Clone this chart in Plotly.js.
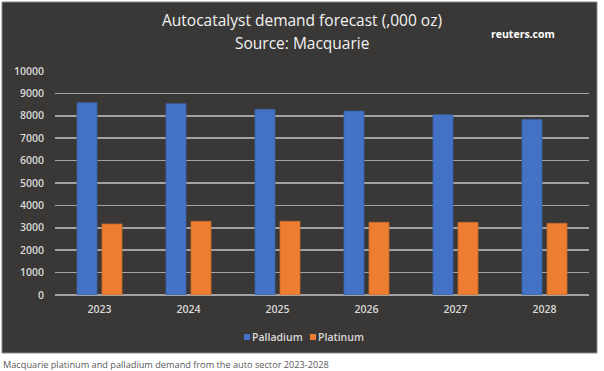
<!DOCTYPE html>
<html>
<head>
<meta charset="utf-8">
<script src="https://cdn.plot.ly/plotly-3.0.1.min.js"></script>
<style>
  html, body { margin: 0; padding: 0; background: #ffffff; }
  #chart { width: 604px; height: 371px; }
</style>
</head>
<body>
<div id="chart"></div>
<script>
const years = ["2023", "2024", "2025", "2026", "2027", "2028"];
const palladium = [8585, 8540, 8290, 8210, 8050, 7840];
const platinum = [3170, 3290, 3290, 3245, 3245, 3200];
const seriesNames = ["Palladium", "Platinum"];
const yTicks = [0, 1000, 2000, 3000, 4000, 5000, 6000, 7000, 8000, 9000, 10000];

const titleLine1 = "Autocatalyst demand forecast (,000 oz)";
const titleLine2 = "Source: Macquarie";
const watermark = "reuters.com";
const caption = "Macquarie platinum and palladium demand from the auto sector 2023-2028";

const BLUE = "#4472c4", ORANGE = "#ed7d31", DARK = "#3a3836";
const tickFont = { family: "Open Sans, sans-serif", size: 10.5, color: "#d9d9d9", weight: 600 };

// plot area: x 55..589, y 71..295 (pixels)
const L = 55, R = 589, T = 71, B = 295, W = 604, H = 371;
const px = x => (x - L) / (R - L);
const py = y => (B - y) / (B - T);

const traces = [
  { type: "bar", name: seriesNames[0], x: years, y: palladium,
    marker: { color: BLUE, line: { color: "#3a62a8", width: 0.8 } }, hoverinfo: "x+y" },
  { type: "bar", name: seriesNames[1], x: years, y: platinum,
    marker: { color: ORANGE, line: { color: "#c8692a", width: 0.8 } }, hoverinfo: "x+y" }
];

const layout = {
  width: W, height: H,
  margin: { l: L, r: W - R, t: T, b: H - B, pad: 0 },
  paper_bgcolor: "#ffffff",
  plot_bgcolor: DARK,
  showlegend: false,
  barmode: "group",
  bargap: 0.438,
  bargroupgap: 0.2,
  xaxis: {
    type: "category",
    tickfont: tickFont,
    showgrid: false, showline: false, zeroline: false,
    ticks: "", ticklen: 0, ticklabelstandoff: 6
  },
  yaxis: {
    range: [0, 10000],
    tickvals: yTicks,
    ticktext: yTicks.map(String),
    tickfont: tickFont,
    showgrid: true, gridcolor: "#a3a3a3", gridwidth: 1.5,
    zeroline: true, zerolinecolor: "#a3a3a3", zerolinewidth: 1.5,
    showline: false, ticks: "", ticklabelstandoff: 10
  },
  shapes: [
    { type: "rect", xref: "paper", yref: "paper", layer: "below",
      x0: px(2), x1: px(597), y0: py(353), y1: py(2),
      fillcolor: DARK, line: { color: "#8a8a8a", width: 1 } },
    { type: "rect", xref: "paper", yref: "paper",
      x0: px(244), x1: px(250), y0: py(340), y1: py(334),
      fillcolor: BLUE, line: { width: 0 } },
    { type: "rect", xref: "paper", yref: "paper",
      x0: px(310), x1: px(316), y0: py(340), y1: py(334),
      fillcolor: ORANGE, line: { width: 0 } }
  ],
  annotations: [
    { text: titleLine1, xref: "paper", yref: "paper", x: px(302), y: py(20),
      showarrow: false, xanchor: "center", yanchor: "middle",
      font: { family: "Open Sans, sans-serif", size: 15.5, color: "#f2f2f2" } },
    { text: titleLine2, xref: "paper", yref: "paper", x: px(302), y: py(43),
      showarrow: false, xanchor: "center", yanchor: "middle",
      font: { family: "Open Sans, sans-serif", size: 15.5, color: "#f2f2f2" } },
    { text: watermark, xref: "paper", yref: "paper", x: px(523), y: py(34),
      showarrow: false, xanchor: "center", yanchor: "middle",
      font: { family: "Open Sans, sans-serif", size: 10.5, color: "#ffffff", weight: 700 } },
    { text: seriesNames[0], xref: "paper", yref: "paper", x: px(250), y: py(337),
      showarrow: false, xanchor: "left", yanchor: "middle",
      font: tickFont },
    { text: seriesNames[1], xref: "paper", yref: "paper", x: px(316), y: py(337),
      showarrow: false, xanchor: "left", yanchor: "middle",
      font: tickFont },
    { text: caption, xref: "paper", yref: "paper", x: px(1), y: py(364),
      showarrow: false, xanchor: "left", yanchor: "middle",
      font: { family: "Open Sans, sans-serif", size: 9.2, color: "#595959" } }
  ]
};

Plotly.newPlot("chart", traces, layout, { displayModeBar: false, staticPlot: true });
</script>
</body>
</html>
